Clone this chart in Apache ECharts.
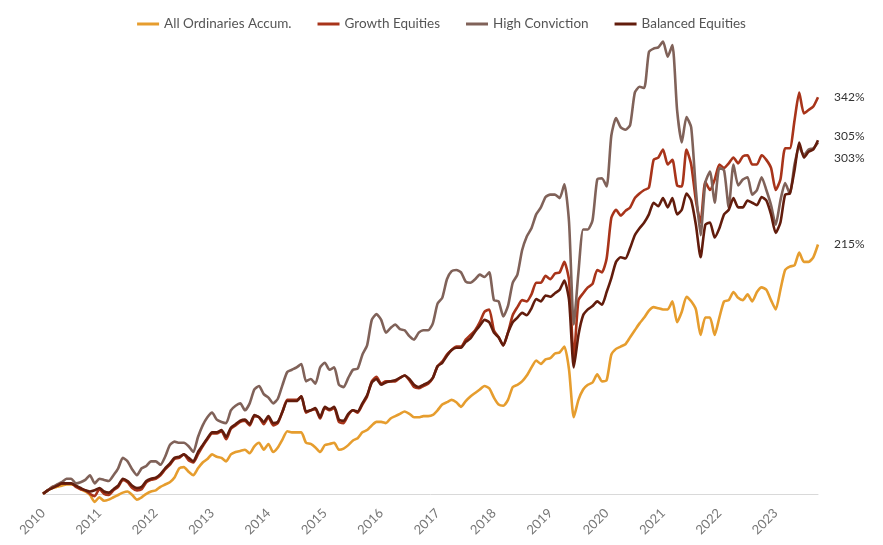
<!DOCTYPE html>
<html>
<head>
<meta charset="utf-8">
<script src="https://cdn.jsdelivr.net/npm/echarts@6/dist/echarts.min.js"></script>
<style>
  html, body { margin: 0; padding: 0; background: #fff; }
  #chart { width: 883px; height: 545px; }
</style>
</head>
<body>
<div id="chart"></div>
<script>
// monthly points, Jan 2010 .. Oct 2023 (cumulative return, %)
const years = ['2010', '2011', '2012', '2013', '2014', '2015', '2016', '2017', '2018', '2019', '2020', '2021', '2022', '2023']
const months = []
years.forEach(y => {
  for (let m = 1; m <= 12; m++) months.push(y + '-' + (m < 10 ? '0' + m : m))
})
months.length = 166

const allOrds = [
  0, 3, 5, 6, 7, 8, 8, 7, 4, 2, -1, -7,
  -3, -6, -5, -3, -1, 1, 2, -1, -5, -3, 0, 2,
  3, 6, 8, 10, 14, 22, 23, 19, 16, 22, 27, 30,
  34, 32, 31, 28, 34, 36, 37, 38, 35, 41, 44, 38,
  43, 36, 40, 47, 54, 53, 53, 53, 44, 43, 40, 36,
  42, 43, 44, 38, 39, 42, 46, 48, 53, 55, 59, 62,
  62, 61, 65, 67, 69, 71, 69, 66, 66, 67, 67, 68,
  72, 77, 79, 81, 79, 75, 80, 84, 87, 90, 93, 91,
  83, 77, 76, 81, 92, 94, 97, 102, 109, 115, 112, 116,
  117, 121, 122, 127, 107, 66, 81, 90, 94, 96, 103, 97,
  98, 120, 125, 127, 129, 135, 141, 147, 152, 158, 161, 160,
  159, 159, 166, 148, 157, 170, 166, 159, 137, 152, 152, 137,
  152, 166, 167, 174, 169, 167, 172, 166, 174, 178, 176, 167,
  159, 176, 193, 196, 197, 208, 200, 200, 204, 215
]
const growth = [
  0, 3, 6, 7, 9, 9, 9, 6, 4, 3, 0, -2,
  4, 0, -1, 3, 6, 12, 10, 5, 3, 4, 10, 12,
  13, 16, 21, 25, 30, 31, 34, 29, 27, 34, 41, 47,
  52, 52, 54, 47, 56, 59, 62, 63, 59, 67, 66, 60,
  66, 59, 61, 71, 81, 81, 81, 84, 70, 72, 73, 65,
  74, 72, 74, 62, 61, 68, 72, 70, 77, 84, 97, 101,
  95, 97, 97, 97, 100, 102, 98, 92, 91, 93, 95, 100,
  110, 114, 120, 124, 127, 127, 133, 137, 141, 148, 157, 159,
  141, 135, 128, 139, 154, 161, 167, 166, 172, 182, 182, 188,
  185, 190, 191, 200, 184, 117, 167, 173, 178, 181, 193, 191,
  203, 238, 245, 240, 244, 247, 255, 259, 262, 264, 288, 290,
  297, 284, 288, 266, 265, 297, 284, 253, 234, 269, 262, 271,
  284, 281, 285, 290, 285, 291, 292, 284, 284, 292, 288, 281,
  262, 271, 298, 298, 322, 346, 328, 331, 334, 342
]
const highConviction = [
  0, 3, 6, 8, 10, 13, 13, 9, 10, 12, 16, 9,
  13, 12, 11, 16, 22, 31, 28, 21, 16, 22, 24, 28,
  28, 25, 32, 42, 45, 44, 44, 41, 36, 49, 59, 66,
  70, 64, 62, 61, 72, 76, 78, 72, 78, 90, 93, 86,
  83, 78, 82, 94, 105, 107, 109, 112, 97, 99, 95, 109,
  113, 107, 109, 94, 92, 100, 107, 108, 120, 128, 150, 155,
  150, 139, 143, 146, 142, 141, 136, 133, 139, 141, 141, 147,
  164, 169, 185, 192, 193, 191, 183, 182, 185, 189, 187, 191,
  167, 166, 153, 162, 182, 189, 210, 222, 229, 241, 247, 256,
  258, 258, 255, 267, 234, 146, 191, 228, 228, 236, 271, 272,
  265, 309, 324, 316, 314, 318, 346, 351, 350, 381, 384, 385,
  390, 377, 387, 331, 303, 325, 316, 262, 223, 268, 278, 251,
  281, 279, 247, 284, 266, 271, 273, 258, 262, 273, 262, 249,
  232, 253, 268, 259, 284, 299, 292, 297, 298, 303
]
const balanced = [
  0, 3, 5, 7, 9, 9, 9, 7, 5, 3, 2, 3,
  5, 2, 1, 4, 7, 13, 11, 7, 5, 6, 11, 13,
  14, 17, 22, 26, 31, 32, 34, 31, 28, 36, 42, 48,
  53, 53, 55, 49, 57, 60, 63, 64, 60, 68, 66, 62,
  67, 61, 62, 71, 80, 80, 80, 84, 71, 72, 74, 66,
  75, 73, 75, 64, 63, 69, 72, 71, 78, 85, 96, 99,
  94, 96, 97, 98, 100, 102, 99, 94, 92, 94, 96, 100,
  110, 113, 119, 124, 126, 126, 131, 134, 140, 145, 150, 148,
  139, 135, 128, 139, 148, 152, 156, 154, 160, 168, 166, 171,
  170, 173, 176, 184, 167, 109, 137, 154, 159, 162, 166, 163,
  174, 186, 200, 204, 203, 212, 223, 229, 234, 241, 251, 248,
  255, 247, 255, 241, 245, 259, 253, 232, 204, 232, 234, 221,
  229, 241, 245, 255, 247, 247, 253, 251, 249, 256, 253, 241,
  225, 234, 258, 259, 279, 303, 290, 295, 297, 305
]

const names = ['All Ordinaries Accum.', 'Growth Equities', 'High Conviction', 'Balanced Equities']
const colors = ['#E69D2E', '#A8341A', '#806259', '#621C0C']
const seriesData = [allOrds, growth, highConviction, balanced]
const labelOffsets = [[0, 0], [0, 0], [0, 16], [0, -4]]

const chart = echarts.init(document.getElementById('chart'))
chart.setOption({
  animation: false,
  textStyle: { fontFamily: 'Lato, "Open Sans", sans-serif' },
  color: colors,
  legend: {
    top: 12,
    left: 'center',
    icon: 'rect',
    itemWidth: 22,
    itemHeight: 3,
    itemGap: 26,
    textStyle: { color: '#555', fontSize: 13.5 }
  },
  grid: { left: 43, right: 65, top: 30, bottom: 28, outerBoundsMode: 'none', containLabel: false },
  xAxis: {
    type: 'category',
    data: months,
    boundaryGap: false,
    axisLine: { lineStyle: { color: '#d9d9d9', width: 1 } },
    axisTick: { show: false },
    axisLabel: {
      interval: 11,
      rotate: 45,
      margin: -6,
      color: '#777',
      fontSize: 13,
      formatter: v => v.slice(0, 4)
    },
    splitLine: { show: false }
  },
  yAxis: {
    type: 'value',
    min: -20,
    max: 400,
    show: false
  },
  series: seriesData.map((d, i) => ({
    name: names[i],
    type: 'line',
    data: d,
    symbol: 'none',
    smooth: 0.2,
    lineStyle: { width: 2.6, color: colors[i] },
    endLabel: {
      show: true,
      distance: 16,
      offset: labelOffsets[i],
      color: '#333',
      fontSize: 12,
      formatter: p => p.value + '%'
    }
  }))
})
</script>
</body>
</html>
